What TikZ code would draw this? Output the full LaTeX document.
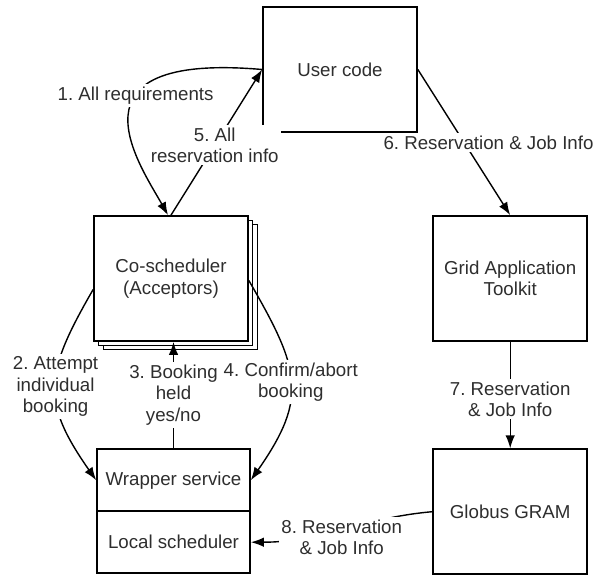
\documentclass[tikz,border=0pt]{standalone}
\usepackage{fontspec}
\setmainfont{Liberation Sans}
\usetikzlibrary{arrows.meta,positioning,shadows}
\frenchspacing

\begin{document}
\begin{tikzpicture}[
			     x=1pt, y=1pt,
			     >={Latex[length=13pt,width=9.5pt]},
			     font=\fontsize{18.7}{21.5}\selectfont,
			     text=black!82,
			     box/.style={draw, line width=1.7pt, fill=white, align=center, minimum width=154pt, minimum height=125pt, inner sep=0pt},
			     flat box/.style={box, minimum width=153pt, minimum height=62pt},
			     descr/.style={fill=white, align=center, inner sep=2.5pt},
			     normal line/.style={->, line width=1.4pt}
			     ]
\path[use as bounding box, fill=white] (0,0) rectangle (595,-575);
%
\node[box] (user) at (340,-69.5) {User code};
\node[box, copy shadow={shadow xshift=9pt, shadow yshift=-8pt, line width=0.8pt},
      copy shadow={shadow xshift=4.5pt, shadow yshift=-4pt, line width=0.8pt}] (cosched) at (171,-278.5) {Co-scheduler\\(Acceptors)};
\node[box, right=183.5pt of cosched] (gat) {Grid Application\\Toolkit};
\node[box, below=106.5pt of gat] (gram) {Globus GRAM};
\node[flat box, below=106.5pt of cosched, xshift=2.5pt] (wrapper) {Wrapper service};
\node[flat box, below=-1.7pt of wrapper] (local) {Local scheduler};
%
\draw[normal line] (user.west) .. controls (60,-52) and (140,-165) .. node[descr, pos=0.38] {1. All requirements} ([xshift=-3pt]cosched.north);
\path (cosched.north) edge[normal line] node[descr, pos=0.48] {5. All\\reservation info} (user.west);
\path (user.east) edge[normal line] node[descr, pos=0.5, xshift=24.5pt] {6. Reservation \& Job Info} (gat.north);
\path ([yshift=-11pt]cosched.west) edge[normal line, out=240, in=125, looseness=1.3] node[descr] {2. Attempt\\individual\\booking} (wrapper.west);
\path (wrapper.north) edge[normal line] node[descr] {3. Booking\\held\\yes/no} (wrapper.north |- cosched.south);
\path ([yshift=-2pt]cosched.east) edge[normal line, out=-60, in=55, looseness=1.3] node[descr] {4. Confirm/abort\\booking} (wrapper.east);
\path (gat.south) edge[normal line] node[descr, pos=0.54] {7. Reservation\\\& Job Info} (gram.north);
\path (gram.west) edge[normal line, out=185, in=0] node[descr, yshift=-8pt] {8. Reservation\\\& Job Info} (local.east);
\end{tikzpicture}
\end{document}
